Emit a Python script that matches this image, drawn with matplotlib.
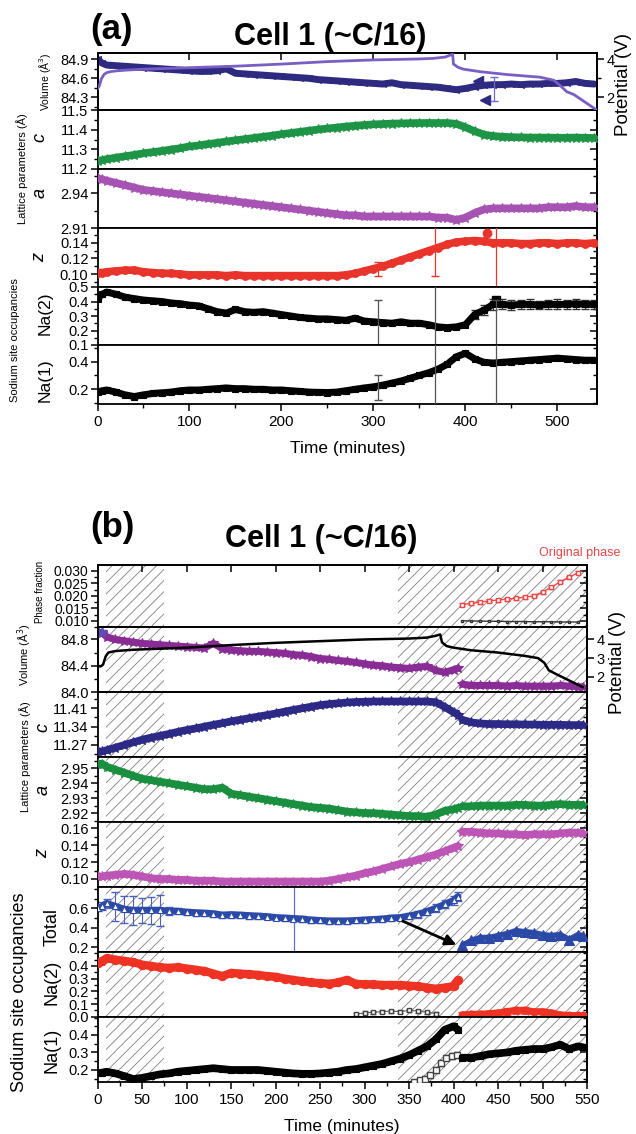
import matplotlib
matplotlib.use("Agg")
import matplotlib.pyplot as plt
from matplotlib.ticker import MultipleLocator, FixedLocator, FormatStrFormatter

plt.rcParams['font.family'] = ['Liberation Sans', 'DejaVu Sans']
plt.rcParams['hatch.linewidth'] = 0.6
plt.rcParams['hatch.color'] = '#808080'

# ---------------- data: panel (a) ----------------
A_T = [0, 5, 10, 20, 30, 40, 50, 60, 70, 80, 90, 100, 110, 120, 130, 140, 150, 160, 170, 180,
       190, 200, 210, 220, 230, 240, 250, 260, 270, 280, 290, 300, 310, 320, 330, 340, 350, 360,
       370, 380, 390, 400, 410, 420, 430, 440, 450, 460, 470, 480, 490, 500, 510, 520, 530, 540]
VOL_A = [84.90, 84.84, 84.81, 84.80, 84.79, 84.78, 84.77, 84.76, 84.75, 84.74, 84.73, 84.72, 84.71, 84.71,
         84.72, 84.75, 84.68, 84.67, 84.66, 84.65, 84.64, 84.63, 84.62, 84.61, 84.60, 84.58, 84.57, 84.56,
         84.55, 84.54, 84.53, 84.52, 84.51, 84.53, 84.50, 84.49, 84.48, 84.47, 84.46, 84.44, 84.42, 84.44,
         84.47, 84.49, 84.50, 84.50, 84.51, 84.50, 84.51, 84.51, 84.52, 84.52, 84.53, 84.55, 84.52, 84.51]
VOL_A_OUT_T = [414, 421]
VOL_A_OUT = [84.56, 84.26]
POT_A_T = [0, 2, 4, 7, 10, 15, 20, 30, 50, 100, 150, 200, 250, 300, 350, 365, 378, 386, 387, 392,
           398, 416, 445, 481, 496, 503, 510, 518, 530, 543]
POT_A = [2.45, 2.6, 2.95, 3.2, 3.3, 3.36, 3.39, 3.43, 3.48, 3.56, 3.64, 3.75, 3.88, 3.97, 4.02, 4.05,
         4.12, 4.27, 3.75, 3.58, 3.48, 3.35, 3.2, 3.06, 2.9, 2.62, 2.3, 2.14, 1.75, 1.32]
C_A = [11.240, 11.245, 11.250, 11.258, 11.265, 11.272, 11.280, 11.286, 11.292, 11.299,
       11.306, 11.315, 11.320, 11.327, 11.333, 11.340, 11.346, 11.352, 11.358, 11.364,
       11.370, 11.377, 11.383, 11.389, 11.395, 11.401, 11.406, 11.411, 11.416, 11.420,
       11.424, 11.427, 11.429, 11.431, 11.432, 11.433, 11.434, 11.434, 11.434, 11.434,
       11.430, 11.412, 11.392, 11.375, 11.368, 11.364, 11.362, 11.361, 11.360, 11.360,
       11.360, 11.359, 11.359, 11.360, 11.359, 11.358]
A_A = [2.953, 2.952, 2.951, 2.949, 2.947, 2.945, 2.943, 2.942, 2.941, 2.940,
       2.939, 2.938, 2.937, 2.936, 2.935, 2.934, 2.933, 2.932, 2.931, 2.930,
       2.929, 2.928, 2.927, 2.926, 2.925, 2.924, 2.923, 2.922, 2.921, 2.921,
       2.920, 2.920, 2.920, 2.920, 2.920, 2.920, 2.920, 2.920, 2.919, 2.919,
       2.917, 2.919, 2.923, 2.926, 2.927, 2.927, 2.927, 2.927, 2.927, 2.927,
       2.928, 2.928, 2.928, 2.929, 2.928, 2.928]
Z_A = [0.102, 0.102, 0.103, 0.104, 0.105, 0.105, 0.103, 0.102, 0.101, 0.101,
       0.100, 0.099, 0.099, 0.099, 0.099, 0.098, 0.099, 0.098, 0.098, 0.098,
       0.098, 0.098, 0.098, 0.098, 0.098, 0.098, 0.098, 0.098, 0.099, 0.101,
       0.104, 0.107, 0.110, 0.114, 0.118, 0.122, 0.126, 0.130, 0.134, 0.138,
       0.141, 0.142, 0.143, 0.142, 0.140, 0.140, 0.140, 0.139, 0.139, 0.140,
       0.140, 0.139, 0.140, 0.140, 0.139, 0.140]
Z_A_OUT_T = [423]
Z_A_OUT = [0.152]
Z_A_EB_T = [305, 367, 433]
Z_A_EB = [0.1065, 0.133, 0.140]
Z_A_EB_LO = [0.0095, 0.036, 0.08]
Z_A_EB_HI = [0.0095, 0.04, 0.08]
NA2_A = [0.42, 0.45, 0.465, 0.45, 0.43, 0.42, 0.41, 0.405, 0.40, 0.39,
         0.385, 0.375, 0.37, 0.35, 0.33, 0.32, 0.345, 0.33, 0.325, 0.33,
         0.32, 0.31, 0.30, 0.29, 0.285, 0.28, 0.28, 0.275, 0.27, 0.285,
         0.265, 0.26, 0.255, 0.25, 0.26, 0.25, 0.25, 0.24, 0.225, 0.22,
         0.225, 0.24, 0.31, 0.34, 0.38, 0.38, 0.375, 0.38, 0.38, 0.375,
         0.38, 0.38, 0.38, 0.385, 0.38, 0.38]
NA2_A_ERR_T = [410, 420, 430, 440, 450, 460, 470, 480, 490, 500, 510, 520, 530, 540]
NA2_A_ERR_V = [0.31, 0.34, 0.38, 0.38, 0.375, 0.38, 0.38, 0.375, 0.38, 0.38, 0.38, 0.385, 0.38, 0.38]
NA2_A_ERR = [0.03, 0.035, 0.04, 0.035, 0.035, 0.03, 0.035, 0.03, 0.03, 0.035, 0.03, 0.035, 0.03, 0.03]
NA2_A_OUT_T = [433]
NA2_A_OUT = [0.41]
NA2_A_EB_T = [305, 367, 433]
NA2_A_EB = [0.255, 0.23, 0.41]
NA2_A_EB_LO = [0.155, 0.2, 0.35]
NA2_A_EB_HI = [0.155, 0.3, 0.0]
NA1_A = [0.18, 0.19, 0.195, 0.18, 0.16, 0.148, 0.16, 0.17, 0.175, 0.18,
         0.19, 0.195, 0.195, 0.20, 0.205, 0.21, 0.205, 0.205, 0.20, 0.20,
         0.195, 0.195, 0.19, 0.185, 0.18, 0.178, 0.177, 0.18, 0.19, 0.20,
         0.21, 0.218, 0.23, 0.245, 0.26, 0.28, 0.30, 0.32, 0.345, 0.38,
         0.435, 0.46, 0.42, 0.395, 0.39, 0.395, 0.40, 0.405, 0.41, 0.415,
         0.42, 0.425, 0.42, 0.415, 0.41, 0.41]
NA1_A_EB_T = [305, 367, 433]
NA1_A_EB = [0.21, 0.33, 0.39]
NA1_A_EB_LO = [0.09, 0.3, 0.3]
NA1_A_EB_HI = [0.09, 0.3, 0.3]

# ---------------- data: panel (b) ----------------
B_T1 = [0, 5, 10, 20, 30, 40, 50, 60, 70, 80, 90, 100, 110, 120, 130, 140, 150, 160, 170, 180,
        190, 200, 210, 220, 230, 240, 250, 260, 270, 280, 290, 300, 310, 320, 330, 340, 350, 360,
        370, 380, 390, 400, 405]
B_T2 = [410, 420, 430, 440, 450, 460, 470, 480, 490, 500, 510, 520, 530, 540, 545]
VOL_B1 = [84.92, 84.90, 84.84, 84.80, 84.78, 84.76, 84.74, 84.73, 84.72, 84.71,
          84.70, 84.69, 84.68, 84.67, 84.74, 84.66, 84.64, 84.63, 84.62, 84.62,
          84.61, 84.60, 84.59, 84.57, 84.56, 84.54, 84.51, 84.50, 84.48, 84.47,
          84.45, 84.43, 84.41, 84.40, 84.38, 84.37, 84.36, 84.38, 84.39, 84.33,
          84.30, 84.34, 84.36]
VOL_B2 = [84.12, 84.10, 84.10, 84.10, 84.10, 84.09, 84.10, 84.09, 84.09, 84.09, 84.09, 84.10, 84.09, 84.08, 84.08]
POT_B_T = [0, 3, 6, 9, 12, 20, 40, 100, 150, 200, 250, 300, 350, 370, 380, 385, 387, 392, 400,
           420, 450, 480, 495, 502, 507, 515, 530, 545]
POT_B = [2.6, 2.55, 2.65, 3.1, 3.3, 3.38, 3.45, 3.56, 3.7, 3.82, 3.91, 4.0, 4.05, 4.1, 4.2, 4.27,
         3.85, 3.65, 3.56, 3.42, 3.3, 3.12, 3.0, 2.75, 2.35, 2.15, 1.8, 1.45]
C_B1 = [11.245, 11.245, 11.250, 11.260, 11.270, 11.280, 11.290, 11.298, 11.305, 11.312,
        11.320, 11.327, 11.333, 11.340, 11.347, 11.353, 11.360, 11.366, 11.372, 11.378,
        11.384, 11.390, 11.397, 11.404, 11.410, 11.416, 11.422, 11.426, 11.429, 11.432,
        11.434, 11.435, 11.436, 11.436, 11.436, 11.436, 11.436, 11.436, 11.436, 11.433,
        11.415, 11.395, 11.385]
C_B2 = [11.366, 11.356, 11.352, 11.350, 11.350, 11.349, 11.349, 11.348, 11.348, 11.347,
        11.347, 11.347, 11.346, 11.346, 11.346]
A_B1 = [2.953, 2.953, 2.951, 2.949, 2.947, 2.945, 2.943, 2.942, 2.941, 2.940,
        2.939, 2.938, 2.937, 2.936, 2.936, 2.937, 2.933, 2.932, 2.931, 2.930,
        2.929, 2.928, 2.927, 2.926, 2.925, 2.924, 2.9235, 2.923, 2.922, 2.921,
        2.9205, 2.920, 2.920, 2.9195, 2.919, 2.9185, 2.918, 2.918, 2.9175, 2.919,
        2.9215, 2.9226, 2.9235]
A_B2 = [2.9245, 2.9245, 2.925, 2.925, 2.925, 2.925, 2.9255, 2.9255, 2.925, 2.925,
        2.9255, 2.926, 2.9255, 2.9255, 2.9255]
Z_B1 = [0.103, 0.103, 0.104, 0.105, 0.106, 0.105, 0.103, 0.101, 0.100, 0.100,
        0.099, 0.099, 0.098, 0.098, 0.098, 0.097, 0.097, 0.097, 0.097, 0.097,
        0.097, 0.097, 0.097, 0.097, 0.097, 0.097, 0.097, 0.098, 0.100, 0.102,
        0.104, 0.107, 0.109, 0.112, 0.115, 0.118, 0.120, 0.123, 0.126, 0.129,
        0.133, 0.137, 0.139]
Z_B2 = [0.156, 0.156, 0.155, 0.154, 0.154, 0.153, 0.153, 0.152, 0.153, 0.153,
        0.153, 0.154, 0.155, 0.155, 0.154]
TOT_B1 = [0.60, 0.62, 0.65, 0.62, 0.59, 0.58, 0.58, 0.58, 0.58, 0.57,
          0.57, 0.56, 0.555, 0.55, 0.545, 0.53, 0.535, 0.53, 0.525, 0.52,
          0.515, 0.505, 0.50, 0.495, 0.49, 0.48, 0.475, 0.47, 0.47, 0.47,
          0.475, 0.48, 0.485, 0.49, 0.50, 0.505, 0.52, 0.54, 0.565, 0.60,
          0.64, 0.68, 0.72]
TOT_B1_ERR = [0.03, 0.04, 0.05, 0.15, 0.14, 0.15, 0.13, 0.14, 0.16, 0.04,
              0.03, 0.03, 0.03, 0.03, 0.03, 0.03, 0.03, 0.03, 0.03, 0.03,
              0.03, 0.03, 0.03, 0.03, 0.03, 0.03, 0.03, 0.03, 0.03, 0.03,
              0.03, 0.03, 0.03, 0.03, 0.03, 0.03, 0.035, 0.035, 0.035, 0.04,
              0.04, 0.045, 0.045]
TOT_B2 = [0.22, 0.27, 0.30, 0.30, 0.32, 0.34, 0.37, 0.36, 0.35, 0.33, 0.32, 0.33, 0.28, 0.33, 0.32]
TOT_B_LINE_T = [221]
TOT_B_LINE = [0.5]
TOT_B_LINE_ERR = [0.5]
NA2_B1 = [0.42, 0.44, 0.46, 0.45, 0.44, 0.43, 0.41, 0.40, 0.39, 0.385,
          0.39, 0.38, 0.37, 0.36, 0.34, 0.32, 0.345, 0.34, 0.335, 0.33,
          0.32, 0.315, 0.30, 0.29, 0.28, 0.27, 0.265, 0.26, 0.27, 0.29,
          0.26, 0.255, 0.255, 0.25, 0.25, 0.25, 0.245, 0.24, 0.23, 0.22,
          0.23, 0.24, 0.29]
NA2_B2 = [0.015, 0.02, 0.02, 0.025, 0.03, 0.04, 0.05, 0.05, 0.04, 0.04, 0.03, 0.015, 0.01, 0.01, 0.01]
NA2_B2_ERR = [0.02, 0.015, 0.02, 0.02, 0.02, 0.025, 0.025, 0.025, 0.02, 0.02, 0.02, 0.015, 0.01, 0.01, 0.01]
NA2_ALT_T = [290, 300, 310, 320, 330, 340, 350, 360, 370, 380]
NA2_ALT = [0.02, 0.03, 0.035, 0.04, 0.045, 0.04, 0.05, 0.045, 0.035, 0.025]
NA1_B1 = [0.18, 0.185, 0.19, 0.18, 0.165, 0.148, 0.155, 0.165, 0.175, 0.18,
          0.19, 0.195, 0.20, 0.205, 0.21, 0.205, 0.20, 0.20, 0.20, 0.20,
          0.195, 0.19, 0.185, 0.18, 0.178, 0.178, 0.18, 0.185, 0.19, 0.20,
          0.205, 0.215, 0.225, 0.235, 0.25, 0.265, 0.285, 0.31, 0.335, 0.375,
          0.43, 0.45, 0.43]
NA1_B2 = [0.27, 0.27, 0.28, 0.29, 0.295, 0.30, 0.31, 0.315, 0.32, 0.32, 0.33, 0.345, 0.32, 0.335, 0.33]
NA1_ALT_T = [355, 362, 368, 374, 380, 386, 392, 398, 404]
NA1_ALT = [0.13, 0.14, 0.15, 0.17, 0.20, 0.24, 0.27, 0.28, 0.285]
PF_T = [410, 420, 430, 440, 450, 460, 470, 480, 490, 500, 510, 520, 530, 540]
PF_ORIG = [0.0165, 0.0170, 0.0175, 0.0180, 0.0183, 0.0187, 0.0190, 0.0195, 0.0200, 0.0215,
           0.0235, 0.0257, 0.0275, 0.0293]
PF_OTHER = [0.0100, 0.0099, 0.0099, 0.0098, 0.0098, 0.0097, 0.0097, 0.0097, 0.0096, 0.0096,
            0.0096, 0.0095, 0.0095, 0.0095]
HATCH_B = [(9, 75), (337.5, 550)]
ARROW_FROM = (340, 0.48)
ARROW_TO = (406, 0.215)

# ---------------- figure ----------------
W, H = 636, 1134
fig = plt.figure(figsize=(W / 100, H / 100), dpi=100)


def fx(px):
    return px / W


def fy(py):
    return 1 - py / H


def make_axes(left, right, top, bottom):
    return fig.add_axes([left / W, 1 - bottom / H, (right - left) / W, (bottom - top) / H])


def style(ax, xmax, xmaj, xmin, ylim, yticks, ymin, fmt, show_x=False, top_ticks=False, right_ticks=True):
    ax.set_xlim(0, xmax)
    ax.set_ylim(*ylim)
    ax.xaxis.set_major_locator(MultipleLocator(xmaj))
    ax.xaxis.set_minor_locator(MultipleLocator(xmin))
    ax.yaxis.set_major_locator(FixedLocator(yticks))
    ax.yaxis.set_minor_locator(MultipleLocator(ymin))
    ax.yaxis.set_major_formatter(FormatStrFormatter(fmt))
    ax.tick_params(which='major', direction='out', length=5, width=1.1, labelsize=10.5, pad=1.5)
    ax.tick_params(which='minor', direction='out', length=3, width=1.0)
    ax.tick_params(axis='x', labelbottom=show_x, labelsize=11, pad=3)
    for s in ax.spines.values():
        s.set_linewidth(1.3)
    if right_ticks:
        sec = ax.secondary_yaxis('right')
        sec.yaxis.set_major_locator(FixedLocator(yticks))
        sec.yaxis.set_minor_locator(MultipleLocator(ymin))
        sec.tick_params(which='major', direction='in', length=5, width=1.1, labelright=False)
        sec.tick_params(which='minor', direction='in', length=3, width=1.0)
        sec.spines['right'].set_linewidth(1.3)
    if top_ticks:
        sec = ax.secondary_xaxis('top')
        sec.xaxis.set_major_locator(MultipleLocator(xmaj))
        sec.tick_params(which='major', direction='in', length=5, width=1.1, labeltop=False)
        sec.spines['top'].set_linewidth(1.3)


def band(ax, t, v, color, marker, ms=5.0, lw=5.0, mfc=None, z=3):
    ax.plot(t, v, color=color, lw=lw, solid_capstyle='round', solid_joinstyle='round', zorder=z)
    ax.plot(t, v, ls='none', marker=marker, ms=ms, color=color,
            mfc=color if mfc is None else mfc, mec=color, mew=0.8, zorder=z + 0.1)


def ylab(x, y, s, size, style_='normal', color='black'):
    fig.text(fx(x), fy(y), s, rotation=90, ha='center', va='center', fontsize=size,
             fontstyle=style_, color=color)


# ======== panel (a) ========
AL, AR = 97.5, 597
a_bounds = [53, 110, 169, 228, 287, 345, 404]
axA = [make_axes(AL, AR, a_bounds[i], a_bounds[i + 1]) for i in range(6)]
XA = 543

col_vol_a = '#2d2a80'
col_pot_a = '#7a5ec4'
ax = axA[0]
band(ax, A_T, VOL_A, col_vol_a, '<', ms=5, lw=5)
ax.plot(VOL_A_OUT_T, VOL_A_OUT, ls='none', marker='<', ms=7, color=col_vol_a, zorder=4)
ax.errorbar([431], [84.43], yerr=[0.19], fmt='none', ecolor='#6a6ad0', elinewidth=0.9, capsize=3, zorder=4)
style(ax, XA, 100, 50, (84.1, 85.0), [84.3, 84.6, 84.9], 0.15, '%.1f', top_ticks=True, right_ticks=False)
axp = ax.twinx()
axp.plot(POT_A_T, POT_A, color=col_pot_a, lw=2.0, zorder=5)
axp.set_ylim(2 + (84.1 - 84.3) / 0.3, 2 + (85.0 - 84.3) / 0.3)
axp.yaxis.set_major_locator(FixedLocator([2, 4]))
axp.yaxis.set_minor_locator(MultipleLocator(1))
axp.yaxis.set_major_formatter(FormatStrFormatter('%d'))
axp.tick_params(which='major', direction='out', length=5, width=1.1, labelsize=10.5, pad=2)
axp.tick_params(which='minor', direction='out', length=3, width=1.0)
for s in axp.spines.values():
    s.set_linewidth(1.3)

ax = axA[1]
band(ax, A_T, C_A, '#1e9447', '*', ms=7, lw=5.5)
style(ax, XA, 100, 50, (11.2, 11.5), [11.2, 11.3, 11.4, 11.5], 0.05, '%.1f')

ax = axA[2]
band(ax, A_T, A_A, '#a653b3', '*', ms=7, lw=5.5)
style(ax, XA, 100, 50, (2.91, 2.961), [2.91, 2.94], 0.015, '%.2f')

ax = axA[3]
band(ax, A_T, Z_A, '#e8342b', 'o', ms=5.5, lw=5.5)
ax.plot(Z_A_OUT_T, Z_A_OUT, ls='none', marker='o', ms=6, color='#e8342b', zorder=4)
ax.errorbar(Z_A_EB_T, Z_A_EB, yerr=[Z_A_EB_LO, Z_A_EB_HI], fmt='none', ecolor='#e8342b',
            elinewidth=0.9, capsize=3, zorder=4)
style(ax, XA, 100, 50, (0.0835, 0.159), [0.10, 0.12, 0.14], 0.01, '%.2f')

ax = axA[4]
ax.errorbar(NA2_A_ERR_T, NA2_A_ERR_V, yerr=NA2_A_ERR, fmt='none', ecolor='#333333',
            elinewidth=0.8, capsize=3, zorder=2)
band(ax, A_T, NA2_A, 'black', 's', ms=4.5, lw=5)
ax.plot(NA2_A_OUT_T, NA2_A_OUT, ls='none', marker='s', ms=6, color='black', zorder=4)
ax.errorbar(NA2_A_EB_T, NA2_A_EB, yerr=[NA2_A_EB_LO, NA2_A_EB_HI], fmt='none', ecolor='#555555',
            elinewidth=0.9, capsize=3, zorder=4)
style(ax, XA, 100, 50, (0.1, 0.5), [0.1, 0.2, 0.3, 0.4, 0.5], 0.05, '%.1f')

ax = axA[5]
band(ax, A_T, NA1_A, 'black', 's', ms=4.5, lw=5)
ax.errorbar(NA1_A_EB_T, NA1_A_EB, yerr=[NA1_A_EB_LO, NA1_A_EB_HI], fmt='none', ecolor='#555555',
            elinewidth=0.9, capsize=3, zorder=4)
style(ax, XA, 100, 50, (0.094, 0.52), [0.2, 0.4], 0.1, '%.1f', show_x=True)

# labels (a)
fig.text(fx(112), fy(30), '(a)', fontsize=25, fontweight='bold', ha='center', va='center')
fig.text(fx(330), fy(37), 'Cell 1 (~C/16)', fontsize=22, fontweight='bold', ha='center', va='center')
fig.text(fx(348), fy(448), 'Time (minutes)', fontsize=12.5, ha='center', va='center')
ylab(45, 82, 'Volume (Å$^3$)', 7.5)
ylab(623, 84, 'Potential (V)', 13.5)
ylab(22, 169, 'Lattice parameters (Å)', 8)
ylab(40, 138, 'c', 13, 'italic')
ylab(40, 193, 'a', 13, 'italic')
ylab(40, 258, 'z', 13, 'italic')
ylab(15, 340, 'Sodium site occupancies', 8)
ylab(45, 313, 'Na(2)', 12.5)
ylab(45, 380, 'Na(1)', 12.5)

# ======== panel (b) ========
BL, BR = 97.7, 587
b_bounds = [565, 627, 692, 757, 822, 887, 952, 1017, 1082]
axB = [make_axes(BL, BR, b_bounds[i], b_bounds[i + 1]) for i in range(8)]
XB = 550

for ax in axB:
    for (x0, x1) in HATCH_B:
        ax.axvspan(x0, x1, facecolor='none', edgecolor='#808080', hatch='///', linewidth=0, zorder=0)

ax = axB[0]
ax.errorbar(PF_T, PF_ORIG, yerr=0.0006, fmt='none', ecolor='#f05050', elinewidth=0.7, capsize=2, zorder=2)
ax.plot(PF_T, PF_ORIG, color='#f04848', lw=1.0, marker='s', ms=3.5, mfc='white', mec='#f04848', zorder=3)
ax.plot(PF_T, PF_OTHER, color='#333333', lw=1.0, marker='s', ms=2, mfc='white', mec='#333333', zorder=3)
style(ax, XB, 50, 25, (0.0075, 0.0324), [0.010, 0.015, 0.020, 0.025, 0.030], 0.0025, '%.3f', top_ticks=True)
ax.tick_params(axis='y', labelsize=10)
fig.text(fx(620), fy(553), 'Original phase', fontsize=9, color='#e84545', ha='right', va='center')

ax = axB[1]
col_vol_b = '#8a2c96'
band(ax, B_T1, VOL_B1, col_vol_b, '*', ms=7, lw=5)
band(ax, B_T2, VOL_B2, col_vol_b, '*', ms=7, lw=5)
ax.plot([0, 5], [84.92, 84.91], ls='none', marker='*', ms=7, color='#5a4fb8', zorder=4)
style(ax, XB, 50, 25, (84.0, 84.99), [84.0, 84.4, 84.8], 0.2, '%.1f', right_ticks=False)
axp = ax.twinx()
axp.plot(POT_B_T, POT_B, color='black', lw=1.8, zorder=5)
axp.set_ylim(4 + (84.0 - 84.8) / 0.284, 4 + (84.99 - 84.8) / 0.284)
axp.yaxis.set_major_locator(FixedLocator([2, 3, 4]))
axp.yaxis.set_major_formatter(FormatStrFormatter('%d'))
axp.tick_params(which='major', direction='out', length=5, width=1.1, labelsize=10.5, pad=2)
for s in axp.spines.values():
    s.set_linewidth(1.3)

ax = axB[2]
band(ax, B_T1, C_B1, '#2c2a86', '*', ms=7, lw=5.5)
band(ax, B_T2, C_B2, '#2c2a86', '*', ms=7, lw=5.5)
style(ax, XB, 50, 25, (11.224, 11.472), [11.27, 11.34, 11.41], 0.035, '%.2f')

ax = axB[3]
band(ax, B_T1, A_B1, '#1a8f3f', '*', ms=7, lw=5.5)
band(ax, B_T2, A_B2, '#1a8f3f', '*', ms=7, lw=5.5)
style(ax, XB, 50, 25, (2.914, 2.9575), [2.92, 2.93, 2.94, 2.95], 0.005, '%.2f')

ax = axB[4]
band(ax, B_T1, Z_B1, '#bd55b6', '*', ms=7, lw=5.5)
band(ax, B_T2, Z_B2, '#bd55b6', '*', ms=7, lw=5.5)
style(ax, XB, 50, 25, (0.0905, 0.1675), [0.10, 0.12, 0.14, 0.16], 0.01, '%.2f')

ax = axB[5]
col_tot = '#2b4aa8'
ax.errorbar(B_T1, TOT_B1, yerr=TOT_B1_ERR, fmt='none', ecolor='#4a5fc0', elinewidth=0.8, capsize=3, zorder=2)
ax.errorbar(TOT_B_LINE_T, TOT_B_LINE, yerr=TOT_B_LINE_ERR, fmt='none', ecolor='#6070d0', elinewidth=0.9, zorder=2)
band(ax, B_T1, TOT_B1, col_tot, '^', ms=4, lw=5, mfc='white')
band(ax, B_T2, TOT_B2, col_tot, '^', ms=7, lw=4)
ax.annotate('', xy=ARROW_TO, xytext=ARROW_FROM,
            arrowprops=dict(arrowstyle='-|>', color='black', lw=2.0, mutation_scale=16), zorder=6)
style(ax, XB, 50, 25, (0.152, 0.818), [0.2, 0.4, 0.6], 0.1, '%.1f')

ax = axB[6]
ax.errorbar(B_T2, NA2_B2, yerr=NA2_B2_ERR, fmt='none', ecolor='#f05050', elinewidth=0.8, capsize=3, zorder=2)
ax.errorbar(NA2_ALT_T, NA2_ALT, yerr=0.012, fmt='none', ecolor='#555555', elinewidth=0.7, capsize=2, zorder=2)
ax.plot(NA2_ALT_T, NA2_ALT, color='#555555', lw=0.8, marker='s', ms=3.5, mfc='white', mec='#444444', zorder=3)
band(ax, B_T1, NA2_B1, '#ee3324', 'o', ms=6, lw=6)
band(ax, B_T2, NA2_B2, '#ee3324', 'o', ms=5, lw=5)
style(ax, XB, 50, 25, (-0.002, 0.51), [0.0, 0.1, 0.2, 0.3, 0.4], 0.05, '%.1f')

ax = axB[7]
ax.plot(NA1_ALT_T, NA1_ALT, color='#555555', lw=0.8, marker='s', ms=4, mfc='white', mec='#444444', zorder=3)
ax.errorbar(NA1_ALT_T, NA1_ALT, yerr=0.015, fmt='none', ecolor='#555555', elinewidth=0.7, capsize=2, zorder=2)
band(ax, B_T1, NA1_B1, 'black', 's', ms=5, lw=5.5)
band(ax, B_T2, NA1_B2, 'black', 's', ms=5, lw=5.5)
style(ax, XB, 50, 25, (0.131, 0.503), [0.2, 0.3, 0.4], 0.05, '%.1f', show_x=True)

# labels (b)
fig.text(fx(112), fy(528), '(b)', fontsize=25, fontweight='bold', ha='center', va='center')
fig.text(fx(321), fy(539), 'Cell 1 (~C/16)', fontsize=22, fontweight='bold', ha='center', va='center')
fig.text(fx(342), fy(1127), 'Time (minutes)', fontsize=12.5, ha='center', va='center')
ylab(40, 592, 'Phase fraction', 7)
ylab(25, 655, 'Volume (Å$^3$)', 8)
ylab(618, 662, 'Potential (V)', 13.5)
ylab(25, 757, 'Lattice parameters (Å)', 8)
ylab(43, 727, 'c', 13, 'italic')
ylab(43, 790, 'a', 13, 'italic')
ylab(43, 853, 'z', 13, 'italic')
ylab(20, 992, 'Sodium site occupancies', 13)
ylab(52, 927, 'Total', 13)
ylab(52, 982, 'Na(2)', 13)
ylab(52, 1050, 'Na(1)', 13)

fig.savefig('out.png', dpi=100)
